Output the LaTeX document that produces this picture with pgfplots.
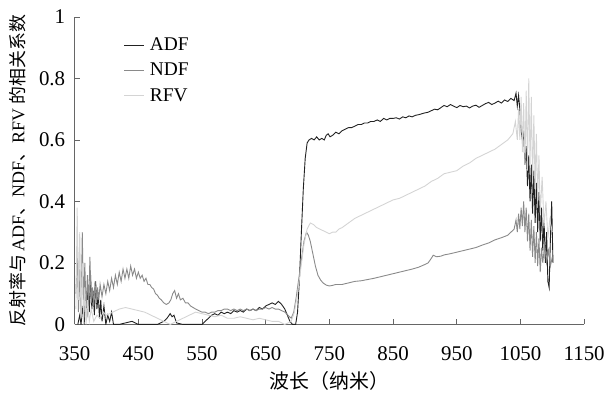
\documentclass[border=0pt]{standalone}
\usepackage{fontspec}
\setmainfont{Liberation Serif}
\newfontfamily\cjk{Noto Sans CJK SC}
\usepackage{pgfplots}
\pgfplotsset{compat=1.18}
\definecolor{cadf}{HTML}{222222}
\definecolor{cndf}{HTML}{8a8a8a}
\definecolor{crfv}{HTML}{d4d4d4}
\begin{document}
\begin{tikzpicture}[font=\fontsize{21}{24}\selectfont]
\begin{axis}[
  scale only axis, width=512pt, height=309pt,
  xmin=350, xmax=1150, ymin=0, ymax=1,
  axis x line*=bottom, axis y line*=left,
  axis line style={gray!80!black, line width=0.8pt},
  xtick={350,450,...,1150}, ytick={0,0.2,...,1},
  yticklabels={0,0.2,0.4,0.6,0.8,1},
  /pgf/number format/assume math mode=true,
  /pgf/number format/1000 sep={},
  tick align=inside, major tick length=5pt,
  tick style={gray!80!black, line width=0.8pt},
  xticklabel style={anchor=center, yshift=-29pt},
  yticklabel style={anchor=east, xshift=-6pt},
  xlabel={\cjk 波长（纳米）},
  ylabel={\cjk 反射率与 \rmfamily ADF\cjk 、\rmfamily NDF\cjk 、\rmfamily RFV \cjk 的相关系数},
  xlabel style={at={(axis description cs:0.5,-0.184)}, anchor=center, font=\fontsize{20}{22}\selectfont},
  ylabel style={at={(axis description cs:-0.112,0.5)}, anchor=center, font=\fontsize{18}{20}\selectfont},
  legend style={at={(0.09,0.945)}, anchor=north west, draw=none, fill=none, row sep=7pt, font=\fontsize{19.5}{22}\selectfont, nodes={inner xsep=5pt}},
  legend cell align=left,
  legend image code/.code={\draw[#1, line width=1.3pt] (0pt,0pt) -- (20pt,0pt);},
  clip=true,
]
\addplot[cadf, line width=0.9pt] coordinates {
(355,0.0)(358,0.03)(360,0.0)(363,0.06)(365,0.0)(367,0.1)(369,0.02)(371,0.13)(373,0.04)(375,0.16)(377,0.05)(379,0.11)(381,0.03)(383,0.14)(385,0.05)(387,0.1)(389,0.02)(391,0.08)(393,0.01)(396,0.06)(399,0.0)(402,0.03)(405,0.01)(408,0.04)(411,0.0)(420,0.0)(430,0.005)(440,0.01)(445,0.005)(450,0.0)(460,0.0)(470,0.0)(480,0.0)(490,0.01)(495,0.02)(500,0.035)(503,0.025)(506,0.03)(510,0.005)(520,0.0)(530,0.0)(540,0.0)(550,0.0)(555,0.01)(560,0.02)(565,0.03)(570,0.035)(575,0.03)(580,0.04)(585,0.035)(590,0.04)(595,0.035)(600,0.045)(605,0.04)(610,0.045)(615,0.04)(620,0.05)(625,0.045)(630,0.05)(635,0.045)(640,0.055)(645,0.05)(650,0.06)(655,0.065)(660,0.07)(665,0.065)(670,0.075)(675,0.065)(680,0.05)(684,0.03)(688,0.01)(692,0.0)(697,0.0)(700,0.04)(703,0.15)(706,0.3)(709,0.44)(712,0.54)(715,0.59)(718,0.6)(722,0.605)(726,0.6)(730,0.61)(734,0.6)(738,0.605)(742,0.6)(745,0.615)(748,0.62)(751,0.61)(755,0.615)(760,0.625)(765,0.62)(770,0.63)(775,0.635)(780,0.64)(785,0.64)(790,0.645)(795,0.65)(800,0.65)(805,0.655)(810,0.655)(815,0.66)(820,0.66)(825,0.665)(830,0.66)(835,0.67)(840,0.665)(845,0.67)(850,0.67)(855,0.672)(860,0.668)(865,0.675)(870,0.672)(875,0.678)(880,0.675)(885,0.68)(890,0.682)(895,0.685)(900,0.688)(905,0.69)(910,0.695)(915,0.7)(920,0.698)(925,0.705)(930,0.712)(935,0.708)(940,0.715)(945,0.71)(950,0.705)(955,0.712)(960,0.708)(965,0.71)(970,0.704)(975,0.71)(980,0.713)(985,0.706)(990,0.712)(995,0.718)(1000,0.722)(1005,0.715)(1010,0.72)(1015,0.726)(1020,0.72)(1025,0.73)(1030,0.725)(1035,0.735)(1040,0.728)(1043,0.752)(1045,0.71)(1047,0.745)(1049,0.7)(1051,0.63)(1053,0.6)(1055,0.62)(1057,0.52)(1059,0.58)(1061,0.45)(1063,0.55)(1065,0.4)(1067,0.52)(1069,0.36)(1071,0.5)(1073,0.33)(1075,0.46)(1077,0.3)(1079,0.43)(1081,0.27)(1083,0.38)(1085,0.24)(1087,0.34)(1089,0.2)(1091,0.3)(1093,0.14)(1095,0.12)(1097,0.28)(1099,0.4)(1101,0.2)
};
\addlegendentry{ADF}
\addplot[cndf, line width=0.9pt] coordinates {
(352,0.1)(354,0.24)(356,0.04)(358,0.18)(360,0.02)(362,0.3)(364,0.06)(366,0.2)(368,0.04)(370,0.16)(372,0.06)(374,0.22)(376,0.07)(378,0.12)(380,0.06)(382,0.14)(384,0.07)(386,0.12)(388,0.08)(390,0.13)(393,0.09)(396,0.13)(399,0.1)(402,0.14)(405,0.11)(408,0.15)(411,0.12)(414,0.16)(417,0.13)(420,0.17)(423,0.14)(426,0.18)(429,0.15)(432,0.18)(435,0.15)(438,0.19)(441,0.16)(444,0.18)(447,0.15)(450,0.17)(453,0.15)(456,0.16)(459,0.14)(462,0.15)(465,0.13)(468,0.13)(471,0.12)(474,0.115)(477,0.1)(480,0.095)(483,0.085)(486,0.08)(490,0.07)(494,0.065)(498,0.07)(501,0.08)(504,0.1)(507,0.11)(510,0.085)(513,0.1)(516,0.08)(520,0.085)(524,0.07)(528,0.07)(532,0.06)(536,0.055)(540,0.05)(545,0.045)(550,0.04)(555,0.04)(560,0.035)(565,0.04)(570,0.04)(575,0.045)(580,0.045)(585,0.05)(590,0.05)(595,0.045)(600,0.05)(605,0.045)(610,0.05)(615,0.045)(620,0.05)(625,0.045)(630,0.05)(635,0.045)(640,0.05)(645,0.05)(650,0.055)(655,0.05)(660,0.055)(665,0.05)(670,0.05)(675,0.045)(680,0.04)(685,0.03)(690,0.02)(694,0.04)(698,0.09)(702,0.15)(706,0.21)(710,0.27)(714,0.3)(717,0.29)(720,0.27)(724,0.23)(728,0.19)(732,0.16)(736,0.145)(740,0.135)(745,0.128)(750,0.125)(755,0.127)(760,0.13)(770,0.13)(780,0.135)(790,0.14)(800,0.142)(810,0.146)(820,0.15)(830,0.155)(840,0.16)(850,0.165)(860,0.17)(870,0.175)(880,0.18)(890,0.186)(900,0.195)(905,0.2)(910,0.215)(913,0.225)(918,0.22)(925,0.222)(930,0.226)(940,0.23)(950,0.235)(960,0.24)(970,0.245)(980,0.25)(990,0.258)(1000,0.265)(1010,0.275)(1020,0.282)(1030,0.29)(1035,0.3)(1040,0.31)(1043,0.34)(1045,0.3)(1047,0.36)(1049,0.31)(1051,0.38)(1053,0.32)(1055,0.4)(1057,0.3)(1059,0.38)(1061,0.27)(1063,0.36)(1065,0.24)(1067,0.34)(1069,0.22)(1071,0.32)(1073,0.2)(1075,0.3)(1077,0.19)(1079,0.28)(1081,0.17)(1083,0.25)(1085,0.2)(1088,0.26)(1091,0.2)(1094,0.24)(1097,0.19)(1100,0.22)
};
\addlegendentry{NDF}
\addplot[crfv, line width=0.9pt] coordinates {
(352,0.05)(354,0.38)(356,0.08)(358,0.3)(360,0.02)(362,0.2)(364,0.0)(366,0.12)(368,0.0)(370,0.08)(373,0.01)(376,0.05)(380,0.01)(385,0.03)(390,0.02)(395,0.04)(400,0.03)(410,0.04)(420,0.05)(430,0.055)(440,0.05)(450,0.045)(460,0.04)(470,0.03)(480,0.02)(490,0.01)(500,0.0)(510,0.01)(520,0.02)(530,0.03)(540,0.04)(550,0.035)(560,0.03)(570,0.025)(580,0.03)(590,0.02)(600,0.02)(610,0.025)(620,0.02)(630,0.015)(640,0.02)(650,0.015)(660,0.01)(670,0.01)(680,0.0)(690,0.01)(695,0.04)(700,0.1)(705,0.18)(710,0.26)(715,0.31)(720,0.33)(725,0.325)(730,0.315)(735,0.31)(740,0.305)(745,0.3)(750,0.295)(755,0.3)(760,0.3)(765,0.31)(770,0.315)(780,0.33)(790,0.345)(800,0.355)(810,0.365)(820,0.375)(830,0.385)(840,0.395)(850,0.405)(860,0.41)(870,0.42)(880,0.43)(890,0.44)(900,0.45)(910,0.465)(920,0.475)(930,0.49)(940,0.495)(950,0.5)(960,0.515)(970,0.525)(980,0.54)(990,0.55)(1000,0.56)(1010,0.57)(1020,0.585)(1030,0.6)(1038,0.62)(1042,0.66)(1045,0.6)(1047,0.7)(1049,0.6)(1051,0.74)(1053,0.56)(1055,0.72)(1057,0.52)(1059,0.76)(1061,0.5)(1063,0.8)(1065,0.52)(1067,0.74)(1069,0.46)(1071,0.68)(1073,0.44)(1075,0.62)(1077,0.4)(1079,0.55)(1081,0.36)(1084,0.48)(1087,0.32)(1090,0.4)(1093,0.28)(1096,0.34)(1100,0.3)
};
\addlegendentry{RFV}
\end{axis}
\path (current axis.south west) ++(-75pt,-76pt) coordinate (bl);
\path (current axis.south west) ++(533pt,326pt) coordinate (tr);
\useasboundingbox (bl) rectangle (tr);
\end{tikzpicture}
\end{document}
